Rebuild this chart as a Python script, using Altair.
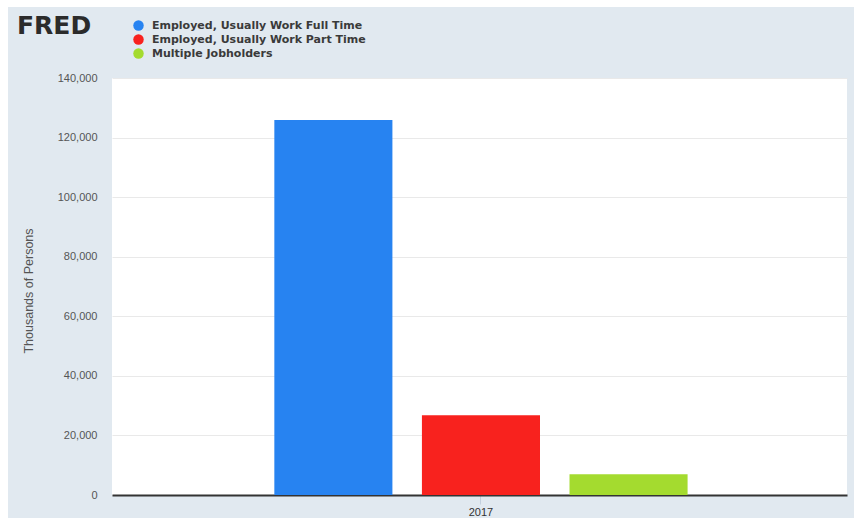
import altair as alt
import pandas as pd

# ---- data ----
series = [
    "Employed, Usually Work Full Time",
    "Employed, Usually Work Part Time",
    "Multiple Jobholders",
]
values = [125900, 26800, 7000]
years = ["2017", "2017", "2017"]
colors = ["#2783f1", "#f8221e", "#a4db2f"]
y_ticks = [0, 20000, 40000, 60000, 80000, 100000, 120000, 140000]

df = pd.DataFrame({"year": years, "series": series, "value": values})

W, H = 735, 417
one = alt.Data(values=[{}])

bars = alt.Chart(df).mark_bar(cornerRadius=0).encode(
    x=alt.X("year:N", title=None,
            scale=alt.Scale(paddingInner=0, paddingOuter=0.33, align=0.505),
            axis=alt.Axis(labelAngle=0, labelFontSize=11, labelColor="#333333",
                          labelFont="Liberation Sans", domainColor="#333333",
                          domainWidth=2, tickColor="#c3d0de", tickSize=9,
                          tickWidth=1, labelPadding=2, grid=False)),
    xOffset=alt.XOffset("series:N", sort=series,
                        scale=alt.Scale(paddingInner=0.2, paddingOuter=0.1)),
    y=alt.Y("value:Q", title="Thousands of Persons",
            scale=alt.Scale(domain=[0, 140000], nice=False),
            axis=alt.Axis(values=y_ticks, format=",.0f", labelFontSize=11,
                          labelColor="#555555", labelFont="Liberation Sans",
                          ticks=False, domain=False, labelPadding=15,
                          gridColor="#e9e9e9", gridWidth=1,
                          titleFont="Liberation Sans", titleFontSize=12.5,
                          titleFontWeight="normal", titleColor="#555555",
                          titleX=-84, titleY=H / 2 + 4, titleAlign="center",
                          titleBaseline="middle", titleAngle=-90)),
    color=alt.Color("series:N", sort=series,
                    scale=alt.Scale(domain=series, range=colors),
                    legend=alt.Legend(title=None, orient="none",
                                      legendX=21, legendY=-58,
                                      symbolType="circle", symbolSize=110,
                                      symbolStrokeWidth=0,
                                      labelFont="DejaVu Sans",
                                      labelFontSize=11, labelFontWeight="bold",
                                      labelColor="#3a3a3a", labelOffset=8,
                                      rowPadding=2, padding=0,
                                      labelLimit=400)),
)

fred = alt.Chart(one).mark_text(
    text="FRED", font="DejaVu Sans", fontSize=25, fontWeight="bold",
    color="#2b2b2b", align="left", baseline="alphabetic"
).encode(x=alt.value(-95), y=alt.value(-44))

strip_left = alt.Chart(one).mark_rect(color="white", clip=False).encode(
    x=alt.value(-112), x2=alt.value(-104), y=alt.value(-78), y2=alt.value(444))
strip_top = alt.Chart(one).mark_rect(color="white", clip=False).encode(
    x=alt.value(-112), x2=alt.value(742), y=alt.value(-78), y2=alt.value(-71))
strip_bottom = alt.Chart(one).mark_rect(color="white", clip=False).encode(
    x=alt.value(-112), x2=alt.value(742), y=alt.value(440), y2=alt.value(444))

chart = alt.layer(strip_left, strip_top, strip_bottom, bars, fred).properties(
    width=W, height=H,
    autosize=alt.AutoSizeParams(type="none"),
    padding={"left": 112, "top": 78, "right": 7, "bottom": 27},
    background="#e1e9f0",
).configure_view(stroke=None, fill="white")

chart.save("out.html", embed_options={"renderer": "svg", "actions": False})
